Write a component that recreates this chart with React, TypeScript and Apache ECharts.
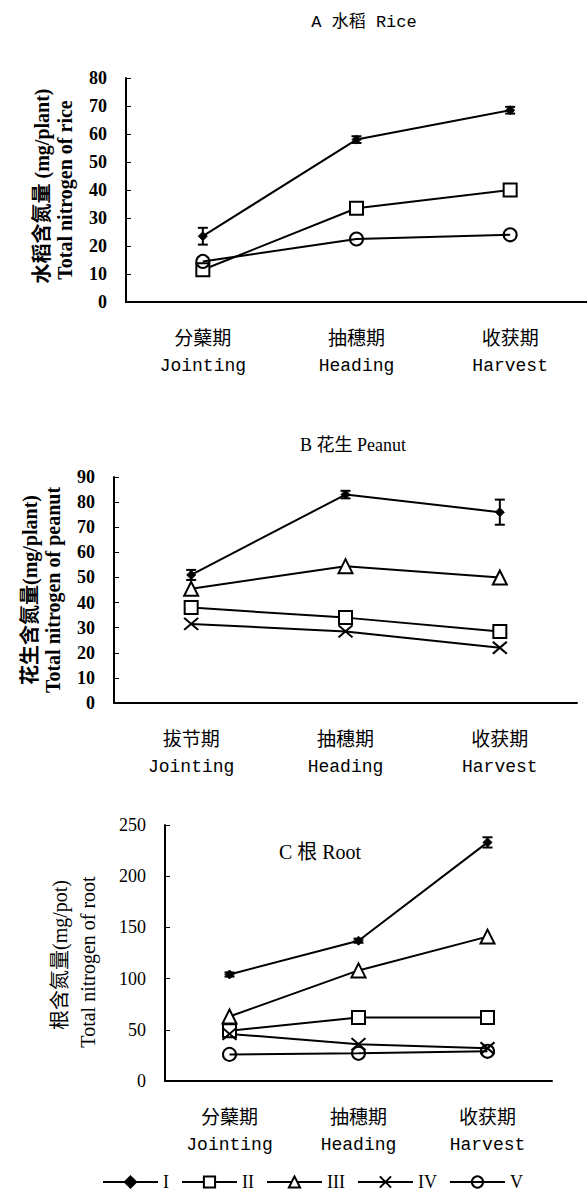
import React, { useEffect, useRef } from "react";
import * as echarts from "echarts";

// categories
const riceStages = ["分蘖期\nJointing", "抽穗期\nHeading", "收获期\nHarvest"];
const peanutStages = ["拔节期\nJointing", "抽穗期\nHeading", "收获期\nHarvest"];
const rootStages = ["分蘖期\nJointing", "抽穗期\nHeading", "收获期\nHarvest"];

// A rice
const riceI = [23.5, 58, 68.5];
const riceII = [11.5, 33.5, 40];
const riceV = [14.5, 22.5, 24];
const riceIErr = [3, 1.2, 1.2];

// B peanut
const peanutI = [51, 83, 76];
const peanutII = [38, 34, 28.5];
const peanutIII = [45.5, 54.5, 50];
const peanutIV = [31.5, 28.5, 22];
const peanutIErr = [2, 1.5, 5];

// C root
const rootI = [104, 137, 233];
const rootII = [49, 62, 62];
const rootIII = [63, 108, 141];
const rootIV = [46, 36, 32];
const rootV = [26, 27, 29];
const rootIErr = [2, 2, 5];

const legendNames = ["I", "II", "III", "IV", "V"];

const BLACK = "#000";
const MONO = "Liberation Mono, Noto Sans CJK SC, monospace";
const SERIF = "Liberation Serif, Noto Sans CJK SC, serif";

const symbolStyles: Record<string, any> = {
  I: { symbol: "diamond", symbolSize: 9, itemStyle: { color: BLACK, borderColor: BLACK, borderWidth: 1 } },
  II: { symbol: "rect", symbolSize: 13, itemStyle: { color: "#fff", borderColor: BLACK, borderWidth: 2 } },
  III: { symbol: "triangle", symbolSize: 14, itemStyle: { color: "#fff", borderColor: BLACK, borderWidth: 2 } },
  IV: {
    symbol: "path://M0,0L10,10M10,0L0,10",
    symbolSize: [14, 12],
    itemStyle: { color: "none", borderColor: BLACK, borderWidth: 2 },
  },
  V: { symbol: "circle", symbolSize: 13, itemStyle: { color: "none", borderColor: BLACK, borderWidth: 2 } },
};

function lineSeries(name: string, data: number[], idx: number) {
  return {
    type: "line",
    name,
    data,
    xAxisIndex: idx,
    yAxisIndex: idx,
    showSymbol: true,
    lineStyle: { color: BLACK, width: 2 },
    z: 3,
    ...symbolStyles[name],
  };
}

function errSeries(values: number[], errs: number[], idx: number) {
  return {
    type: "custom",
    name: "err" + idx,
    xAxisIndex: idx,
    yAxisIndex: idx,
    data: values.map((v, i) => [i, v, errs[i]]),
    encode: { x: 0, y: 1 },
    z: 4,
    renderItem: (params: any, api: any) => {
      const x = api.value(0);
      const v = api.value(1);
      const e = api.value(2);
      const top = api.coord([x, v + e]);
      const bot = api.coord([x, v - e]);
      const st = { stroke: BLACK, lineWidth: 2 };
      return {
        type: "group",
        children: [
          { type: "line", shape: { x1: top[0], y1: top[1], x2: bot[0], y2: bot[1] }, style: st },
          { type: "line", shape: { x1: top[0] - 5, y1: top[1], x2: top[0] + 5, y2: top[1] }, style: st },
          { type: "line", shape: { x1: bot[0] - 5, y1: bot[1], x2: bot[0] + 5, y2: bot[1] }, style: st },
        ],
      };
    },
  };
}

function xAxis(data: string[], idx: number) {
  return {
    type: "category",
    gridIndex: idx,
    data,
    boundaryGap: true,
    axisLine: { lineStyle: { color: BLACK, width: 2 } },
    axisTick: { inside: true, length: 5, lineStyle: { color: BLACK, width: 1 } },
    axisLabel: {
      margin: 20,
      color: BLACK,
      interval: 0,
      formatter: (v: string) => {
        const [cn, en] = v.split("\n");
        return `{cn|${cn}}\n{en|${en}}`;
      },
      rich: {
        cn: { fontFamily: "Noto Sans CJK SC", fontSize: 19, lineHeight: 29, color: BLACK },
        en: { fontFamily: MONO, fontSize: 18, lineHeight: 29, color: BLACK },
      },
    },
    splitLine: { show: false },
  };
}

function yAxis(max: number, interval: number, idx: number, bold: boolean) {
  return {
    type: "value",
    gridIndex: idx,
    min: 0,
    max,
    interval,
    axisLine: { show: true, lineStyle: { color: BLACK, width: 2 } },
    axisTick: { show: true, inside: true, length: 5, lineStyle: { color: BLACK, width: 1 } },
    axisLabel: {
      margin: 19,
      color: BLACK,
      fontFamily: SERIF,
      fontSize: 18,
      fontWeight: bold ? "bold" : "normal",
    },
    splitLine: { show: false },
  };
}

function vText(text: string, x: number, y: number, font: string) {
  return {
    type: "text",
    x,
    y,
    rotation: Math.PI / 2,
    style: { text, font, fill: BLACK, align: "center", verticalAlign: "middle" },
  };
}

function hText(text: string, x: number, y: number, font: string) {
  return {
    type: "text",
    x,
    y,
    style: { text, font, fill: BLACK, align: "center", verticalAlign: "middle" },
  };
}

export default function App() {
  const ref = useRef<HTMLDivElement>(null);
  useEffect(() => {
    if (!ref.current) return;
    const chart = echarts.init(ref.current, undefined, { renderer: "svg" });
    chart.setOption({
      animation: false,
      backgroundColor: "#fff",
      grid: [
        { left: 126, top: 78, width: 462, height: 224 },
        { left: 114, top: 477, width: 463, height: 226 },
        { left: 165, top: 825, width: 387, height: 256 },
      ],
      xAxis: [xAxis(riceStages, 0), xAxis(peanutStages, 1), xAxis(rootStages, 2)],
      yAxis: [yAxis(80, 10, 0, true), yAxis(90, 10, 1, true), yAxis(250, 50, 2, false)],
      legend: {
        data: legendNames,
        left: 100,
        top: 1170,
        padding: 2,
        itemWidth: 55,
        itemHeight: 14,
        itemGap: 12,
        textStyle: { fontFamily: SERIF, fontSize: 18, lineHeight: 20, color: BLACK },
      },
      graphic: [
        hText("A 水稻 Rice", 364, 22, `17px ${MONO}`),
        hText("B 花生 Peanut", 353, 445, `18px ${SERIF}`),
        hText("C 根 Root", 320, 852, `20px ${SERIF}`),
        vText("水稻含氮量 (mg/plant)", 42, 186, `bold 20px ${SERIF}`),
        vText("Total nitrogen of rice", 65, 190, `bold 20px ${SERIF}`),
        vText("花生含氮量(mg/plant)", 30, 590, `bold 20px ${SERIF}`),
        vText("Total nitrogen of peanut", 53, 590, `bold 20px ${SERIF}`),
        vText("根含氮量(mg/pot)", 60, 955, `20px ${SERIF}`),
        vText("Total nitrogen of root", 88, 962, `20px ${SERIF}`),
      ],
      series: [
        lineSeries("I", riceI, 0),
        lineSeries("II", riceII, 0),
        lineSeries("V", riceV, 0),
        errSeries(riceI, riceIErr, 0),
        lineSeries("I", peanutI, 1),
        lineSeries("III", peanutIII, 1),
        lineSeries("II", peanutII, 1),
        lineSeries("IV", peanutIV, 1),
        errSeries(peanutI, peanutIErr, 1),
        lineSeries("I", rootI, 2),
        lineSeries("III", rootIII, 2),
        lineSeries("II", rootII, 2),
        lineSeries("IV", rootIV, 2),
        lineSeries("V", rootV, 2),
        errSeries(rootI, rootIErr, 2),
      ],
    });
    return () => chart.dispose();
  }, []);
  return (
    <div
      ref={ref}
      style={{ position: "fixed", left: 0, top: 0, width: 587, height: 1201, background: "#fff" }}
    />
  );
}
